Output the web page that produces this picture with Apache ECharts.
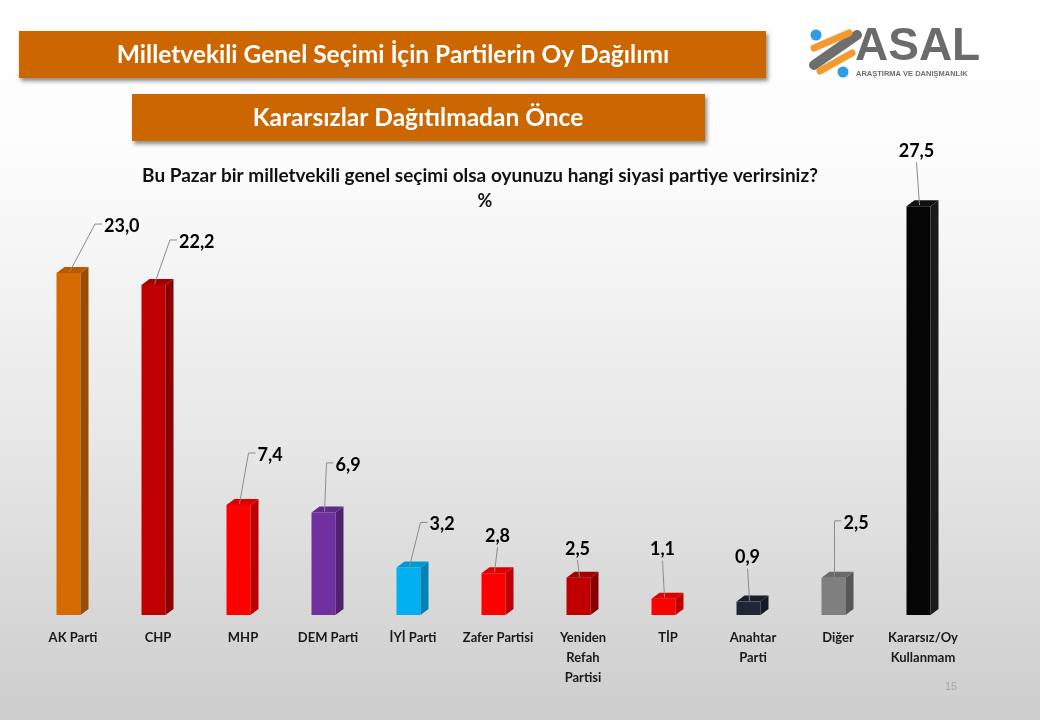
<!DOCTYPE html>
<html>
<head>
<meta charset="utf-8">
<script src="https://cdn.jsdelivr.net/npm/echarts@6/dist/echarts.min.js"></script>
<style>
html,body{margin:0;padding:0;background:#fff;}
#chart{width:1040px;height:720px;}
</style>
</head>
<body>
<div id="chart"></div>
<script>
// ---- data ----
const categories = ['AK Parti', 'CHP', 'MHP', 'DEM Parti', 'İYİ Parti', 'Zafer Partisi',
  'Yeniden\nRefah\nPartisi', 'TİP', 'Anahtar\nParti', 'Diğer', 'Kararsız/Oy\nKullanmam'];
const values = [23.0, 22.2, 7.4, 6.9, 3.2, 2.8, 2.5, 1.1, 0.9, 2.5, 27.5];

// ---- styling ----
const frontColors = ['#D46A00', '#C00000', '#FF0000', '#7030A0', '#00B0F0', '#FF0000', '#C00000', '#FF0000', '#1F2736', '#7F7F7F', '#050505'];
const sideColors  = ['#9A4C00', '#8A0000', '#C00000', '#4E2270', '#0083B5', '#C00000', '#8A0000', '#C00000', '#141A24', '#575757', '#1A1A1A'];
const topColors   = ['#B75B00', '#A50000', '#DE0000', '#5F2A88', '#0099D2', '#DE0000', '#A50000', '#DE0000', '#19202C', '#6A6A6A', '#101010'];
// label leader placement: [dx, dy, mode]
const labelPlacement = [
  [26.5, -49, 'side'], [16.5, -45, 'side'], [10, -52, 'side'], [3, -49.5, 'side'], [12, -45, 'side'],
  [4, -26, 'top'], [-1, -18, 'top'], [-1, -38, 'top'], [-1, -33, 'top'], [1, -57, 'side'], [-2, -44, 'top']
];

const chart = echarts.init(document.getElementById('chart'), null, {renderer: 'canvas'});

function fmt(v) { return v.toFixed(1).replace('.', ','); }

function renderItem(params, api) {
  const i = api.value(0), v = api.value(1);
  const p = api.coord([i, v]);
  const b = api.coord([i, 0]);
  const fc = p[0] - 4.5;
  const W = 12, D = 8, H = 6;
  const xl = fc - W, xr = fc + W;
  const yt = p[1], yb = b[1];
  const pl = labelPlacement[i];
  const children = [
    {type: 'polygon', shape: {points: [[xl, yt], [xr, yt], [xr, yb], [xl, yb]]}, style: {fill: frontColors[i]}},
    {type: 'polygon', shape: {points: [[xr, yt], [xr + D, yt - H], [xr + D, yb - H], [xr, yb]]}, style: {fill: sideColors[i]}},
    {type: 'polygon', shape: {points: [[xl, yt], [xl + D, yt - H], [xr + D, yt - H], [xr, yt]]}, style: {fill: topColors[i]}}
  ];
  const sx = fc + 1, sy = yt - 1;
  const ex = fc + pl[0], ey = yt + pl[1];
  const font = 'bold 18px Lato';
  if (pl[2] === 'side') {
    children.push({type: 'polyline', shape: {points: [[sx, sy], [ex, ey], [ex + 7, ey]]}, style: {stroke: '#8c8c8c', lineWidth: 1, fill: null}});
    children.push({type: 'text', style: {text: fmt(v), x: ex + 9, y: ey + 2, align: 'left', verticalAlign: 'middle', fill: '#000', font: font}});
  } else {
    children.push({type: 'polyline', shape: {points: [[sx, sy], [ex, ey]]}, style: {stroke: '#8c8c8c', lineWidth: 1, fill: null}});
    children.push({type: 'text', style: {text: fmt(v), x: ex, y: ey - 11, align: 'center', verticalAlign: 'middle', fill: '#000', font: font}});
  }
  return {type: 'group', children: children};
}

const option = {
  animation: false,
  backgroundColor: 'transparent',
  grid: {left: 30.5, right: 74.5, top: 169, bottom: 105, containLabel: false},
  xAxis: {
    type: 'category', data: categories,
    axisLine: {show: false}, axisTick: {show: false}, splitLine: {show: false},
    axisLabel: {interval: 0, margin: 13, color: '#1a1a1a', fontFamily: 'Lato', fontWeight: 'bold', fontSize: 13, lineHeight: 20}
  },
  yAxis: {type: 'value', min: 0, max: 30, show: false},
  series: [{
    type: 'custom',
    renderItem: renderItem,
    encode: {x: 0, y: 1},
    data: values.map((v, i) => [i, v]),
    z: 5
  }],
  graphic: [
    {type: 'rect', z: -100, silent: true, shape: {x: 0, y: 0, width: 1040, height: 720},
      style: {fill: new echarts.graphic.LinearGradient(0, 0, 0, 1, [
        {offset: 0, color: '#ffffff'}, {offset: 0.22, color: '#fcfcfc'}, {offset: 0.6, color: '#e8e8e8'}, {offset: 1, color: '#cdcdcd'}])}},
    {type: 'rect', shape: {x: 19, y: 31, width: 747, height: 47},
      style: {fill: '#CC6600', shadowBlur: 4, shadowOffsetX: 2, shadowOffsetY: 3, shadowColor: 'rgba(0,0,0,0.45)'}},
    {type: 'text', style: {text: 'Milletvekili Genel Seçimi İçin Partilerin Oy Dağılımı', x: 393, y: 55, align: 'center', verticalAlign: 'middle', fill: '#fff', font: 'bold 24.5px Lato'}},
    {type: 'rect', shape: {x: 132, y: 94, width: 573, height: 47},
      style: {fill: '#CC6600', shadowBlur: 4, shadowOffsetX: 2, shadowOffsetY: 3, shadowColor: 'rgba(0,0,0,0.45)'}},
    {type: 'text', style: {text: 'Kararsızlar Dağıtılmadan Önce', x: 418, y: 118, align: 'center', verticalAlign: 'middle', fill: '#fff', font: 'bold 24.5px Lato'}},
    {type: 'text', style: {text: 'Bu Pazar bir milletvekili genel seçimi olsa oyunuzu hangi siyasi partiye verirsiniz?', x: 480, y: 176, align: 'center', verticalAlign: 'middle', fill: '#111', font: 'bold 19px Lato'}},
    {type: 'text', style: {text: '%', x: 485, y: 201, align: 'center', verticalAlign: 'middle', fill: '#111', font: 'bold 18px Lato'}},
    // logo
    {type: 'line', shape: {x1: 814, y1: 65, x2: 857, y2: 35}, style: {stroke: '#6e6e6e', lineWidth: 10, lineCap: 'round'}},
    {type: 'line', shape: {x1: 814, y1: 48, x2: 849, y2: 33}, style: {stroke: '#F39A2E', lineWidth: 7, lineCap: 'round'}},
    {type: 'line', shape: {x1: 820, y1: 71, x2: 852, y2: 53}, style: {stroke: '#F39A2E', lineWidth: 7, lineCap: 'round'}},
    {type: 'circle', shape: {cx: 816, cy: 35, r: 5.5}, style: {fill: '#2F9BE5'}},
    {type: 'circle', shape: {cx: 843, cy: 72, r: 5.5}, style: {fill: '#2F9BE5'}},
    {type: 'text', style: {text: 'ASAL', x: 855, y: 47, align: 'left', verticalAlign: 'middle', fill: '#6b6b6b', font: 'bold 46px "Liberation Sans"'}},
    {type: 'text', style: {text: 'ARAŞTIRMA VE DANIŞMANLIK', x: 856, y: 74, align: 'left', verticalAlign: 'middle', fill: '#6e6e6e', font: 'bold 7.5px "Liberation Sans"'}},
    {type: 'text', style: {text: '15', x: 951, y: 687, align: 'center', verticalAlign: 'middle', fill: '#a6a6a6', font: '11px "Liberation Sans"'}}
  ]
};
chart.setOption(option);
</script>
</body>
</html>
